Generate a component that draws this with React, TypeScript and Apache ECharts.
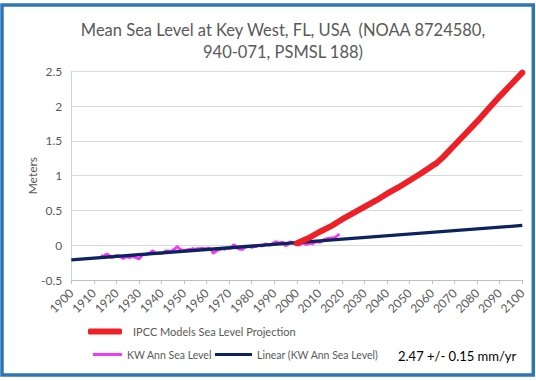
import React, { useEffect, useRef } from 'react';
import * as echarts from 'echarts';

const titleLines = ['Mean Sea Level at Key West, FL, USA  (NOAA 8724580,', '940-071, PSMSL 188)'];
const yAxisName = 'Meters';
const rateText = '2.47 +/- 0.15 mm/yr';

const kwName = 'KW Ann Sea Level';
const trendName = 'Linear (KW Ann Sea Level)';
const projName = 'IPCC Models Sea Level Projection';

// Annual mean sea level, Key West (m), 1913..2019
const kwStartYear = 1913;
const kwValues = [
  -0.15, -0.16, -0.14, -0.13, -0.15, -0.18, -0.16, -0.15, -0.15, -0.17,
  -0.19, -0.17, -0.17, -0.18, -0.16, -0.17, -0.18, -0.2, -0.16, -0.13,
  -0.14, -0.12, -0.11, -0.08, -0.1, -0.12, -0.11, -0.12, -0.1, -0.08,
  -0.08, -0.09, -0.07, -0.05, -0.02, -0.05, -0.07, -0.07, -0.07, -0.06,
  -0.06, -0.05, -0.06, -0.05, -0.05, -0.04, -0.05, -0.05, -0.04, -0.06,
  -0.12, -0.09, -0.07, -0.06, -0.05, -0.06, -0.04, -0.05, -0.03, 0.01,
  -0.02, -0.05, -0.06, -0.06, -0.03, -0.02, -0.02, -0.03, -0.02, -0.02,
  0.0, -0.01, -0.01, 0.02, 0.01, 0.0, 0.02, 0.04, 0.05, 0.03,
  0.04, 0.04, -0.01, 0.01, 0.05, 0.04, 0.02, 0.01, 0.0, 0.02,
  0.03, 0.01, 0.02, 0.03, 0.02, 0.04, 0.05, 0.04, 0.05, 0.08,
  0.09, 0.1, 0.1, 0.11, 0.11, 0.14, 0.16,
];

const trendYears = [1900, 2100];
const trendValues = [-0.21, 0.284];

const projYears = [2000, 2005, 2010, 2015, 2020, 2025, 2030, 2035, 2040, 2045, 2050, 2055, 2060, 2062, 2065, 2070, 2075, 2080, 2085, 2090, 2095, 2100];
const projValues = [0.03, 0.1, 0.19, 0.27, 0.37, 0.46, 0.55, 0.64, 0.74, 0.83, 0.93, 1.03, 1.14, 1.18, 1.27, 1.44, 1.61, 1.78, 1.96, 2.14, 2.31, 2.48];

const FONT = 'Lato, "Open Sans", sans-serif';
const GREY = '#595959';

export default function App() {
  const ref = useRef<HTMLDivElement>(null);
  useEffect(() => {
    if (!ref.current) return;
    const chart = echarts.init(ref.current, undefined, { renderer: 'svg' });
    const kwData = kwValues.map((v, i) => [kwStartYear + i, v]);
    const trendData = trendYears.map((y, i) => [y, trendValues[i]]);
    const projData = projYears.map((y, i) => [y, projValues[i]]);
    chart.setOption({
      animation: false,
      backgroundColor: '#ffffff',
      textStyle: { fontFamily: FONT },
      title: {
        text: titleLines.join('\n'),
        left: 283,
        top: 19,
        textAlign: 'center',
        padding: 0,
        textStyle: { fontFamily: FONT, fontSize: 16.5, fontWeight: 'normal', color: GREY, lineHeight: 22 },
      },
      grid: { left: 71.3, right: 13.7, top: 71.3, bottom: 101, containLabel: false },
      xAxis: {
        type: 'value',
        min: 1900,
        max: 2100,
        interval: 10,
        axisLine: { show: true, onZero: false, lineStyle: { color: '#BFBFBF', width: 1 } },
        axisTick: { show: true, length: 4, lineStyle: { color: '#BFBFBF' } },
        splitLine: { show: false },
        axisLabel: {
          rotate: 45,
          margin: 11,
          color: GREY,
          fontFamily: FONT,
          fontSize: 12,
          formatter: (v: number) => String(v),
        },
      },
      yAxis: {
        type: 'value',
        min: -0.5,
        max: 2.5,
        interval: 0.5,
        name: yAxisName,
        nameLocation: 'middle',
        nameGap: 33,
        nameMoveOverlap: false,
        nameTextStyle: { color: GREY, fontFamily: FONT, fontSize: 12 },
        axisLine: { show: true, onZero: false, lineStyle: { color: '#BDD7EE', width: 1 } },
        axisTick: { show: false },
        splitLine: { show: true, lineStyle: { color: '#D9D9D9', width: 1 } },
        axisLabel: { color: GREY, fontFamily: FONT, fontSize: 12, margin: 9 },
      },
      legend: [
        {
          data: [{ name: projName, icon: 'roundRect' }],
          left: 88,
          top: 326,
          padding: 0,
          itemWidth: 34,
          itemHeight: 6,
          textStyle: { color: GREY, fontFamily: FONT, fontSize: 11, padding: [0, 0, 0, 6] },
          selectedMode: false,
        },
        {
          data: [{ name: kwName, icon: 'rect' }],
          left: 93,
          top: 349,
          padding: 0,
          itemWidth: 29,
          itemHeight: 3,
          textStyle: { color: GREY, fontFamily: FONT, fontSize: 10.5 },
          selectedMode: false,
        },
        {
          data: [{ name: trendName, icon: 'rect' }],
          left: 215,
          top: 349,
          padding: 0,
          itemWidth: 37,
          itemHeight: 3,
          textStyle: { color: GREY, fontFamily: FONT, fontSize: 10.5 },
          selectedMode: false,
        },
      ],
      graphic: [
        {
          type: 'rect',
          shape: { x: 2, y: 5, width: 531.3, height: 370 },
          style: { fill: 'none', stroke: '#2E75B6', lineWidth: 3.5 },
          silent: true,
        },
        {
          type: 'text',
          x: 398,
          y: 356,
          style: {
            text: rateText,
            fill: '#000000',
            font: `13px ${FONT}`,
            verticalAlign: 'middle',
            align: 'left',
          },
        },
      ],
      series: [
        {
          name: kwName,
          type: 'line',
          data: kwData,
          showSymbol: false,
          symbol: 'none',
          lineStyle: { color: '#F03CF0', width: 2.8 },
          itemStyle: { color: '#F03CF0' },
          z: 2,
        },
        {
          name: trendName,
          type: 'line',
          data: trendData,
          showSymbol: false,
          symbol: 'none',
          lineStyle: { color: '#0B2460', width: 3.3 },
          itemStyle: { color: '#0B2460' },
          z: 3,
        },
        {
          name: projName,
          type: 'line',
          data: projData,
          showSymbol: false,
          symbol: 'none',
          lineStyle: { color: '#EE2027', width: 6, cap: 'round', join: 'round' },
          itemStyle: { color: '#EE2027' },
          z: 4,
        },
      ],
    });
    return () => chart.dispose();
  }, []);
  return (
    <div style={{ position: 'absolute', left: 0, top: 0, width: 536, height: 381 }}>
      <div ref={ref} style={{ width: 536, height: 381 }} />
    </div>
  );
}
